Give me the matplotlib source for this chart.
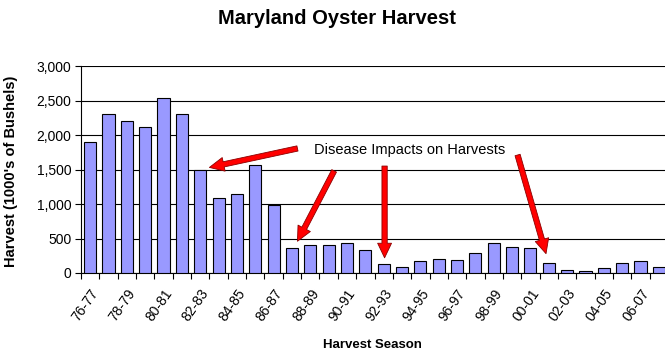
import matplotlib
matplotlib.use('Agg')
import matplotlib.pyplot as plt
from matplotlib.patches import FancyArrowPatch
from matplotlib.ticker import FuncFormatter

plt.rcParams['font.family'] = ['Liberation Sans', 'DejaVu Sans']

seasons = ['76-77', '77-78', '78-79', '79-80', '80-81', '81-82', '82-83', '83-84',
           '84-85', '85-86', '86-87', '87-88', '88-89', '89-90', '90-91', '91-92',
           '92-93', '93-94', '94-95', '95-96', '96-97', '97-98', '98-99', '99-00',
           '00-01', '01-02', '02-03', '03-04', '04-05', '05-06', '06-07', '07-08']
harvest = [1900, 2310, 2210, 2120, 2530, 2310, 1490, 1090,
           1140, 1570, 990, 360, 410, 410, 430, 330,
           125, 85, 175, 210, 190, 295, 430, 380,
           360, 150, 50, 35, 70, 150, 170, 90]

# arrows: (tail season index, tail value, tip season index, tip value)
arrows = [(11.3, 1805, 6.5, 1530),
          (13.3, 1480, 11.3, 460),
          (16.05, 1550, 16.05, 220),
          (23.3, 1710, 24.85, 280)]
note = 'Disease Impacts on Harvests'

fig = plt.figure(figsize=(6.65, 3.54), dpi=100)
ax = fig.add_axes([81 / 665, 81 / 354, 587 / 665, 207 / 354])

x = list(range(len(seasons)))
ax.bar(x, harvest, width=0.66, color='#9999FF', edgecolor='black', linewidth=0.8, zorder=3)

ax.set_xlim(-0.5, len(seasons) - 0.5)
ax.set_ylim(0, 3000)
ax.set_yticks(range(0, 3001, 500))
ax.yaxis.set_major_formatter(FuncFormatter(lambda v, p: format(int(v), ',')))
ax.grid(axis='y', color='black', linewidth=0.8, zorder=0)
ax.set_axisbelow(True)

ax.set_xticks(x[::2])
ax.set_xticklabels(seasons[::2], rotation=55, ha='right', rotation_mode='anchor', fontsize=10)
ax.set_xticks([i - 0.5 for i in range(len(seasons) + 1)], minor=True)
ax.tick_params(axis='x', which='major', length=0, pad=10)
ax.tick_params(axis='x', which='minor', length=4, width=0.8)
ax.tick_params(axis='y', length=4, width=0.8, labelsize=10, pad=3)

for s in ['top', 'right']:
    ax.spines[s].set_visible(False)
for s in ['left', 'bottom']:
    ax.spines[s].set_linewidth(0.8)

ax.set_ylabel("Harvest (1000's of Bushels)", fontsize=10.5, fontweight='bold')
ax.yaxis.set_label_coords(-0.107, 0.49)
ax.set_xlabel('Harvest Season', fontsize=9.5, fontweight='bold', va='center')
ax.xaxis.set_label_coords(0.497, -0.348)

fig.text(337 / 665, 1 - 19 / 354, 'Maryland Oyster Harvest', ha='center', va='center',
         fontsize=14.5, fontweight='bold')

ax.text(12.2, 1780, note, ha='left', va='center', fontsize=10.5, zorder=5)

for x0, y0, x1, y1 in arrows:
    arr = FancyArrowPatch((x0, y0), (x1, y1),
                          arrowstyle='simple,head_length=10.5,head_width=10,tail_width=3.8',
                          mutation_scale=1, shrinkA=0, shrinkB=0,
                          fc='#FF0000', ec='#8B0000', lw=0.6, zorder=6)
    ax.add_patch(arr)

fig.savefig('out.png', dpi=100)
